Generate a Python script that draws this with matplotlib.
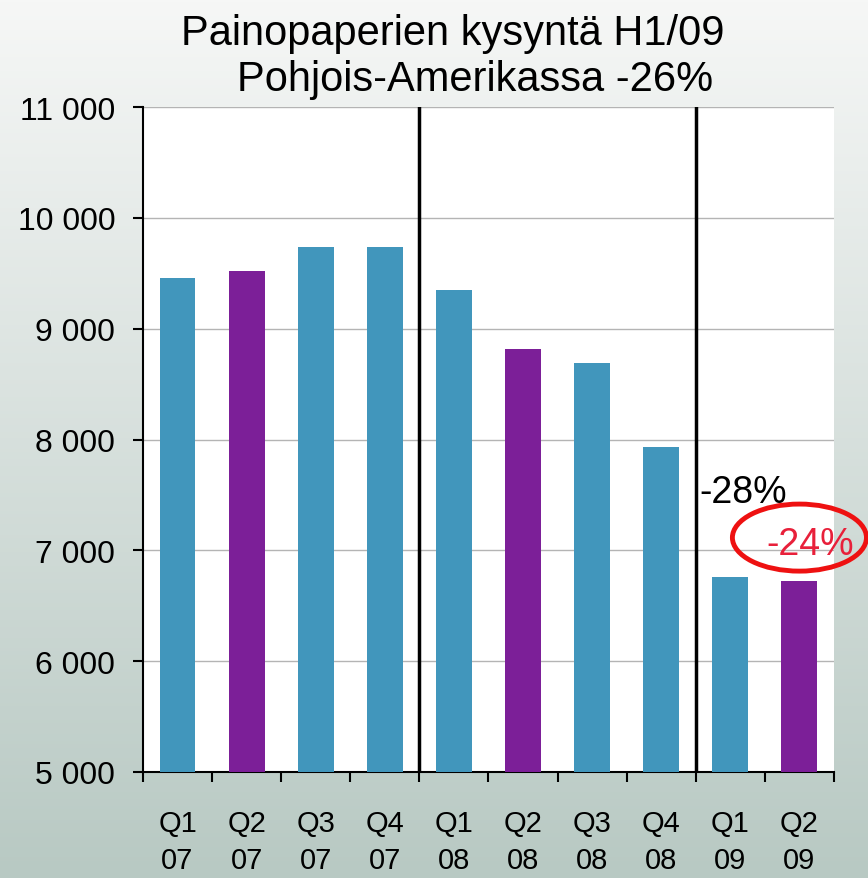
import numpy as np
import matplotlib
matplotlib.use("Agg")
import matplotlib.pyplot as plt
import matplotlib.colors as mcolors
from matplotlib.patches import Ellipse

plt.rcParams['font.family'] = ['Liberation Sans', 'DejaVu Sans']

# data
quarters = ['Q1', 'Q2', 'Q3', 'Q4', 'Q1', 'Q2', 'Q3', 'Q4', 'Q1', 'Q2']
years = ['07', '07', '07', '07', '08', '08', '08', '08', '09', '09']
demand = [9460, 9520, 9740, 9740, 9350, 8820, 8690, 7930, 6760, 6720]
highlight = [False, True, False, False, False, True, False, False, False, True]
yticks = [5000, 6000, 7000, 8000, 9000, 10000, 11000]
change_q1 = '-28%'
change_q2 = '-24%'

blue = '#4196bc'
purple = '#7c1f98'

fig = plt.figure(figsize=(8.68, 8.79), dpi=100)

# gradient background over the whole figure
bg = fig.add_axes([0, 0, 1, 1], zorder=-10)
grad = np.linspace(0, 1, 256).reshape(-1, 1)
bg_cmap = mcolors.LinearSegmentedColormap.from_list('bg', ['#f6f7f6', '#b8c9c3'])
bg.imshow(grad, cmap=bg_cmap, aspect='auto', extent=[0, 1, 0, 1])
bg.axis('off')

ax = fig.add_axes([0.1647, 0.1206, 0.7961, 0.7565])
ax.set_facecolor('white')

x = np.arange(len(demand))
colors = [purple if h else blue for h in highlight]
ax.bar(x, demand, width=0.52, color=colors, zorder=3)

ax.set_xlim(-0.5, len(demand) - 0.5)
ax.set_ylim(5000, 11000)
ax.set_yticks(yticks)
ax.set_yticklabels([f'{v:,}'.replace(',', ' ') for v in yticks], fontsize=23)
ax.yaxis.grid(True, color='#b4b4b4', linewidth=1, zorder=0)
ax.set_axisbelow(True)

# ticks at category boundaries, labels at centers
ax.set_xticks(np.arange(len(demand) + 1) - 0.5)
ax.set_xticklabels([])
ax.set_xticks(x, minor=True)
ax.set_xticklabels([f'{q}\n{y}' for q, y in zip(quarters, years)], minor=True,
                   fontsize=21, linespacing=1.4)
ax.tick_params(axis='x', which='minor', length=0, pad=27)
ax.tick_params(axis='x', which='major', length=7, width=1.5, direction='out')
ax.tick_params(axis='y', length=7, width=1.5, direction='out', pad=13)

for s in ['top', 'right']:
    ax.spines[s].set_visible(False)
for s in ['left', 'bottom']:
    ax.spines[s].set_linewidth(1.5)

# year separators
for b in [3.5, 7.5]:
    ax.axvline(b, color='black', linewidth=2.5, zorder=4)

# annotations
ax.text(x[8] + 0.19, 7525, change_q1, fontsize=27, ha='center', va='center', zorder=5)
ax.text(x[9] + 0.15, 7060, change_q2, fontsize=27, ha='center', va='center',
        color='#e8203a', zorder=5)
ax.add_patch(Ellipse((x[9], 7115), 1.94, 605, fill=False, edgecolor='#ee1111',
                     linewidth=3.5, clip_on=False, zorder=6))

fig.text(0.522, 0.949, 'Painopaperien kysyntä H1/09', fontsize=30, ha='center', va='baseline')
fig.text(0.547, 0.897, 'Pohjois-Amerikassa -26%', fontsize=30, ha='center', va='baseline')

fig.savefig('out.png', dpi=100)
